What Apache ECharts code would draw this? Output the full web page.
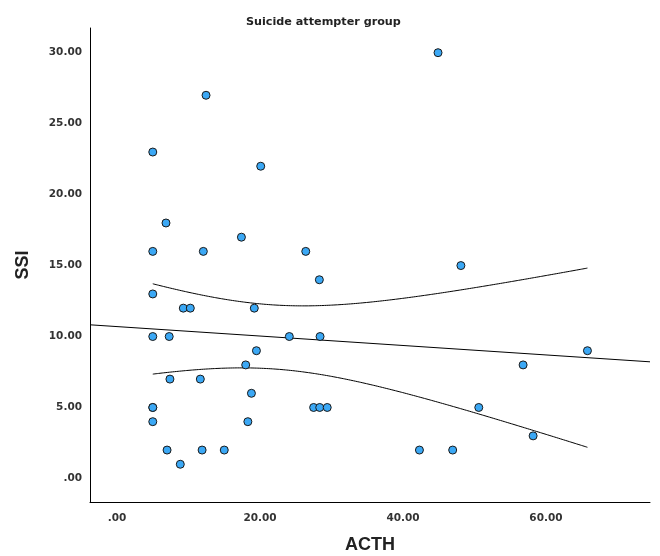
<!DOCTYPE html>
<html>
<head>
<meta charset="utf-8">
<script src="https://cdn.jsdelivr.net/npm/echarts@6/dist/echarts.min.js"></script>
<style>html,body{margin:0;padding:0;background:#fff;}#c{width:660px;height:556px;}</style>
</head>
<body>
<div id="c"></div>
<script>
// ACTH values (x) and SSI values (y).
// (5.0, 5) appears twice: two cases overlap on one marker, which the drawn fit line implies.
var acth = [44.9, 12.45, 5.0, 20.1, 6.85, 17.4, 5.0, 12.07, 26.4, 48.1, 28.3, 5.0, 9.27, 10.25, 19.2,
            5.0, 7.3, 24.1, 28.4, 19.5, 65.8, 18.0, 56.8, 7.4, 11.65, 18.8, 5.0, 27.5, 28.35, 29.4,
            50.6, 5.0, 18.3, 58.2, 7.0, 11.9, 15.0, 42.3, 46.95, 8.85, 5.0];
var ssi  = [30, 27, 23, 22, 18, 17, 16, 16, 16, 15, 14, 13, 12, 12, 12,
            10, 10, 10, 10, 9, 9, 8, 8, 7, 7, 6, 5, 5, 5, 5,
            5, 4, 4, 3, 2, 2, 2, 2, 2, 1, 5];
var xTicks = [0, 20, 40, 60];
var yTicks = [0, 5, 10, 15, 20, 25, 30];
var xRange = [-3.78, 74.55];
var yRange = [-1.66, 31.74];

// Linear fit and 95% mean confidence band computed from the data
var n = acth.length, mx = 0, my = 0;
for (var i = 0; i < n; i++) { mx += acth[i]; my += ssi[i]; }
mx /= n; my /= n;
var sxx = 0, sxy = 0;
for (i = 0; i < n; i++) { sxx += (acth[i]-mx)*(acth[i]-mx); sxy += (acth[i]-mx)*(ssi[i]-my); }
var b = sxy / sxx, a = my - b * mx;
var sse = 0;
for (i = 0; i < n; i++) { var r = ssi[i] - (a + b*acth[i]); sse += r*r; }
var s = Math.sqrt(sse / (n - 2));
var tcrit = 2.023;
var xmin = Math.min.apply(null, acth), xmax = Math.max.apply(null, acth);
var upper = [], lower = [];
for (i = 0; i <= 60; i++) {
  var x = xmin + (xmax - xmin) * i / 60;
  var yh = a + b * x;
  var h = tcrit * s * Math.sqrt(1/n + (x-mx)*(x-mx)/sxx);
  upper.push([x, yh + h]);
  lower.push([x, yh - h]);
}
var fit = [[xRange[0], a + b*xRange[0]], [xRange[1], a + b*xRange[1]]];
var pts = acth.map(function(v, k){ return [v, ssi[k]]; });

function fmt(v){ return v === 0 ? '.00' : v.toFixed(2); }
var lab = {fontFamily:'DejaVu Sans', fontWeight:'bold', fontSize:10.5, color:'#333'};

var chart = echarts.init(document.getElementById('c'));
chart.setOption({
  animation:false,
  backgroundColor:'#fff',
  title:{text:'Suicide attempter group', left:241, top:12,
    textStyle:{fontFamily:'DejaVu Sans', fontWeight:'bold', fontSize:11.2, color:'#222'}},
  grid:{left:90, right:10, top:28, bottom:54, outerBoundsMode:'none', containLabel:false},
  xAxis:{type:'value', min:xRange[0], max:xRange[1],
    name:'ACTH', nameLocation:'middle', nameGap:34,
    nameTextStyle:{fontFamily:'Liberation Sans', fontWeight:'bold', fontSize:18, color:'#222'},
    axisLine:{show:true, onZero:false, lineStyle:{color:'#000', width:1}},
    axisTick:{show:false},
    splitLine:{show:false},
    axisLabel:Object.assign({customValues:xTicks, formatter:fmt, margin:11}, lab)},
  yAxis:{type:'value', min:yRange[0], max:yRange[1],
    name:'SSI', nameLocation:'middle', nameGap:58, nameRotate:90,
    nameTextStyle:{fontFamily:'Liberation Sans', fontWeight:'bold', fontSize:18, color:'#222'},
    axisLine:{show:true, onZero:false, lineStyle:{color:'#000', width:1}},
    axisTick:{show:false},
    splitLine:{show:false},
    axisLabel:Object.assign({customValues:yTicks, formatter:fmt, margin:8}, lab)},
  series:[
    {type:'line', data:fit, showSymbol:false, silent:true, lineStyle:{color:'#000', width:1}, z:2},
    {type:'line', data:upper, showSymbol:false, smooth:true, silent:true, lineStyle:{color:'#000', width:1}, z:2},
    {type:'line', data:lower, showSymbol:false, smooth:true, silent:true, lineStyle:{color:'#000', width:1}, z:2},
    {type:'scatter', data:pts, symbol:'circle', symbolSize:8, z:3,
      itemStyle:{color:'#3ba8f5', borderColor:'#1a1a1a', borderWidth:1, opacity:1}}
  ]
});
</script>
</body>
</html>
